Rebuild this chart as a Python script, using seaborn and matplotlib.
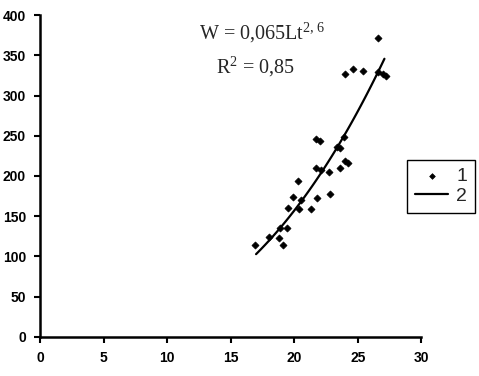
import matplotlib
matplotlib.use("Agg")
import matplotlib.pyplot as plt
import seaborn as sns
import numpy as np
import pandas as pd

# Points (length Lt, weight W)
length = [16.9, 18.0, 18.8, 19.1, 18.9, 19.4, 19.5, 20.4, 21.3, 19.9,
          20.5, 20.3, 21.8, 22.8, 21.7, 22.1, 22.7, 23.6, 24.0, 24.2,
          21.7, 22.0, 23.4, 23.6, 23.9, 24.0, 24.6, 25.4, 26.6, 26.6,
          27.2, 27.0]
weight = [114, 124, 123, 114, 135, 135, 160, 159, 159, 174,
          170, 194, 173, 178, 210, 207, 205, 210, 219, 216,
          246, 243, 236, 235, 248, 327, 333, 330, 371, 329,
          324, 327]

# fitted power curve shown on the chart: W = a * Lt^b
coef_a = 0.065
coef_b = 2.6
fit_from, fit_to = 17.0, 27.1

df = pd.DataFrame({"Lt": length, "W": weight})
fit_x = np.linspace(fit_from, fit_to, 60)
fit = pd.DataFrame({"Lt": fit_x, "W": coef_a * fit_x ** coef_b})

sns.set_style("ticks")
plt.rcParams["font.family"] = ["Liberation Sans", "DejaVu Sans"]
plt.rcParams["mathtext.fontset"] = "custom"
plt.rcParams["mathtext.rm"] = "Liberation Serif"
plt.rcParams["mathtext.default"] = "rm"

fig = plt.figure(figsize=(4.79, 3.76), dpi=100)
ax = fig.add_axes([0.0835, 0.104, 0.796, 0.856])

sns.scatterplot(data=df, x="Lt", y="W", ax=ax, marker="D", s=13,
                color="black", edgecolor="black", linewidth=0.5, label="1", zorder=3)
sns.lineplot(data=fit, x="Lt", y="W", ax=ax, color="black", linewidth=1.6, label="2")

ax.set_xlim(0, 30)
ax.set_ylim(0, 400)
ax.set_xticks(range(0, 31, 5))
ax.set_yticks(range(0, 401, 50))
ax.set_xlabel("")
ax.set_ylabel("")
for side in ["top", "right"]:
    ax.spines[side].set_visible(False)
for side in ["left", "bottom"]:
    ax.spines[side].set_linewidth(1.8)
    ax.spines[side].set_color("black")
ax.tick_params(axis="both", length=4, width=1.5, color="black",
               labelsize=10, labelcolor="black", pad=6)
for lab in ax.get_xticklabels() + ax.get_yticklabels():
    lab.set_fontweight("bold")

ax.text(0.583, 0.944, "W = 0,065Lt$^{2,6}$", transform=ax.transAxes,
        ha="center", va="center", fontsize=14.5, family="Liberation Serif")
ax.text(0.564, 0.839, "R$^{2}$ = 0,85", transform=ax.transAxes,
        ha="center", va="center", fontsize=14.5, family="Liberation Serif")

leg = ax.legend(loc="center left", bbox_to_anchor=(0.85, 0.505),
                bbox_transform=fig.transFigure, frameon=True,
                fancybox=False, edgecolor="black", fontsize=14,
                handlelength=1.7, handletextpad=0.4, borderpad=0.42,
                labelspacing=0.08, borderaxespad=0, markerscale=0.8)
leg.get_frame().set_linewidth(1.0)
leg.get_frame().set_alpha(1)

fig.savefig("out.png", dpi=100)
